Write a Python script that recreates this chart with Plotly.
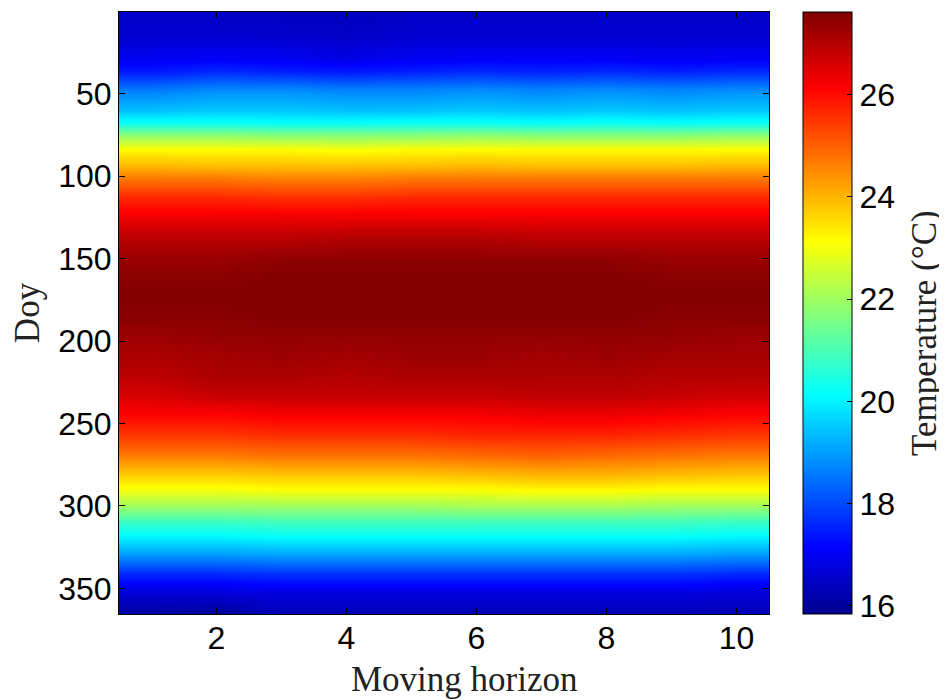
import plotly.graph_objects as go

# ---- data (temperature, °C) ----
horizon = [1, 2, 3, 4, 5, 6, 7, 8, 9, 10]
doy = [1, 15, 29, 36, 48, 60, 68, 75, 84, 94, 101, 113, 125, 137, 149, 161, 173,
       185, 197, 209, 221, 233, 245, 257, 269, 281, 289, 300, 310, 317, 329, 341, 353, 365]

temperature = [
    # h1    h2    h3    h4    h5    h6    h7    h8    h9    h10
    [16.5, 16.5, 16.4, 16.4, 16.5, 16.5, 16.5, 16.5, 16.5, 16.5],   # 1
    [16.6, 16.6, 16.6, 16.5, 16.6, 16.6, 16.6, 16.6, 16.6, 16.6],   # 15
    [17.0, 17.1, 17.0, 16.9, 17.0, 17.1, 17.1, 17.1, 17.0, 17.1],   # 29
    [17.4, 17.6, 17.5, 17.4, 17.5, 17.6, 17.5, 17.6, 17.5, 17.6],   # 36
    [18.6, 18.8, 18.8, 18.7, 18.7, 18.8, 18.7, 18.8, 18.7, 18.8],   # 48
    [19.4, 19.5, 19.5, 19.4, 19.4, 19.5, 19.4, 19.5, 19.4, 19.5],   # 60
    [20.3, 20.3, 20.2, 20.2, 20.3, 20.3, 20.2, 20.3, 20.2, 20.3],   # 68
    [21.8, 21.8, 21.7, 21.7, 21.7, 21.8, 21.7, 21.7, 21.7, 21.8],   # 75
    [23.2, 23.2, 23.2, 23.1, 23.2, 23.2, 23.2, 23.2, 23.2, 23.2],   # 84
    [24.0, 23.9, 23.9, 23.9, 23.9, 24.0, 23.9, 23.9, 23.9, 24.0],   # 94
    [24.7, 24.7, 24.6, 24.6, 24.7, 24.7, 24.7, 24.7, 24.7, 24.7],   # 101
    [25.7, 25.7, 25.6, 25.6, 25.7, 25.7, 25.7, 25.7, 25.7, 25.7],   # 113
    [26.3, 26.3, 26.3, 26.3, 26.3, 26.3, 26.3, 26.3, 26.3, 26.3],   # 125
    [26.9, 26.9, 26.9, 27.0, 27.0, 27.0, 26.9, 26.9, 26.9, 26.9],   # 137
    [27.3, 27.3, 27.4, 27.4, 27.4, 27.4, 27.4, 27.4, 27.3, 27.3],   # 149
    [27.5, 27.5, 27.6, 27.6, 27.6, 27.6, 27.6, 27.6, 27.5, 27.5],   # 161
    [27.6, 27.6, 27.6, 27.6, 27.6, 27.6, 27.6, 27.6, 27.6, 27.6],   # 173
    [27.5, 27.5, 27.6, 27.6, 27.6, 27.6, 27.6, 27.6, 27.5, 27.5],   # 185
    [27.3, 27.4, 27.4, 27.4, 27.4, 27.4, 27.4, 27.4, 27.4, 27.3],   # 197
    [27.1, 27.2, 27.3, 27.2, 27.3, 27.3, 27.2, 27.3, 27.2, 27.2],   # 209
    [26.9, 27.1, 27.1, 27.0, 27.1, 27.1, 27.1, 27.1, 27.0, 27.0],   # 221
    [26.6, 26.8, 26.8, 26.8, 26.8, 26.8, 26.9, 26.9, 26.8, 26.7],   # 233
    [26.1, 26.1, 26.2, 26.2, 26.2, 26.2, 26.3, 26.3, 26.2, 26.1],   # 245
    [25.5, 25.5, 25.6, 25.6, 25.6, 25.7, 25.7, 25.7, 25.6, 25.5],   # 257
    [24.7, 24.7, 24.8, 24.8, 24.8, 24.9, 25.0, 24.9, 24.8, 24.7],   # 269
    [23.7, 23.7, 23.8, 23.8, 23.8, 23.9, 24.0, 24.0, 23.9, 23.8],   # 281
    [23.1, 23.1, 23.2, 23.2, 23.2, 23.2, 23.3, 23.3, 23.2, 23.2],   # 289
    [22.0, 22.0, 22.0, 22.0, 22.0, 22.1, 22.1, 22.1, 22.0, 22.0],   # 300
    [20.8, 20.8, 20.9, 20.9, 20.9, 20.9, 20.9, 20.9, 20.9, 20.8],   # 310
    [20.2, 20.2, 20.3, 20.3, 20.3, 20.3, 20.3, 20.3, 20.3, 20.2],   # 317
    [19.0, 19.0, 19.1, 19.1, 19.1, 19.1, 19.1, 19.1, 19.1, 19.0],   # 329
    [17.6, 17.6, 17.7, 17.7, 17.7, 17.7, 17.7, 17.7, 17.7, 17.6],   # 341
    [16.7, 16.7, 16.8, 16.8, 16.8, 16.8, 16.8, 16.8, 16.8, 16.7],   # 353
    [16.1, 16.0, 16.3, 16.3, 16.3, 16.3, 16.3, 16.3, 16.3, 16.3],   # 365
]

x_ticks = [2, 4, 6, 8, 10]
y_ticks = [50, 100, 150, 200, 250, 300, 350]
cbar_ticks = [16, 18, 20, 22, 24, 26]

jet = [
    [0.0, "rgb(0,0,143)"],
    [0.111, "rgb(0,0,255)"],
    [0.365, "rgb(0,255,255)"],
    [0.619, "rgb(255,255,0)"],
    [0.873, "rgb(255,0,0)"],
    [1.0, "rgb(128,0,0)"],
]

TICK_FONT = dict(family="Liberation Sans, Arial, sans-serif", size=32, color="black")
TITLE_FONT = dict(family="Liberation Serif, Times New Roman, serif", size=35, color="#222222")

# the page body has an 8 px default margin: lay the figure out in window pixels minus 8
OFF = 8
W, H = 947 - OFF, 700 - OFF
PL, PR, PT, PB = 119 - OFF, 769 - OFF, 12 - OFF, 614 - OFF   # plot area in figure px
L, R, T, B = PL, W - PR, PT, H - PB
PW, PH = PR - PL, PB - PT

fig = go.Figure(
    go.Heatmap(
        x=horizon,
        y=doy,
        z=temperature,
        colorscale=jet,
        zmin=15.84,
        zmax=27.62,
        zsmooth="best",
        colorbar=dict(
            x=(803 - OFF - PL) / PW,
            xanchor="left",
            y=0.5,
            yanchor="middle",
            len=1.0,
            lenmode="fraction",
            thickness=49,
            thicknessmode="pixels",
            outlinecolor="black",
            outlinewidth=1,
            ticks="inside",
            ticklen=5,
            tickcolor="black",
            tickvals=cbar_ticks,
            tickfont=TICK_FONT,
            xpad=0,
            ypad=0,
        ),
    )
)

fig.update_layout(
    width=W,
    height=H,
    margin=dict(l=L, r=R, t=T, b=B, autoexpand=False),
    paper_bgcolor="white",
    plot_bgcolor="white",
    xaxis=dict(
        range=[0.5, 10.5],
        tickvals=x_ticks,
        ticks="inside",
        ticklen=6,
        tickcolor="black",
        showline=True,
        linecolor="black",
        linewidth=1,
        mirror="ticks",
        showgrid=False,
        zeroline=False,
        tickfont=TICK_FONT,
        ticklabelstandoff=-4,
        automargin=False,
    ),
    yaxis=dict(
        range=[365.5, 0.5],
        tickvals=y_ticks,
        ticks="inside",
        ticklen=6,
        tickcolor="black",
        showline=True,
        linecolor="black",
        linewidth=1,
        mirror="ticks",
        showgrid=False,
        zeroline=False,
        tickfont=TICK_FONT,
        automargin=False,
        title=dict(text="Doy", font=TITLE_FONT, standoff=14),
    ),
    annotations=[
        dict(
            text="Moving horizon",
            xref="paper", yref="paper",
            x=(465 - OFF - PL) / PW, y=-(679 - OFF - PB) / PH,
            xanchor="center", yanchor="middle",
            showarrow=False,
            font=TITLE_FONT,
        ),
        dict(
            text="Temperature (°C)",
            xref="paper", yref="paper",
            x=(924 - OFF - PL) / PW, y=(PB - (333 - OFF)) / PH,
            xanchor="center", yanchor="middle",
            textangle=-90,
            showarrow=False,
            font=TITLE_FONT,
        ),
    ],
)

fig.write_html("out.html")
